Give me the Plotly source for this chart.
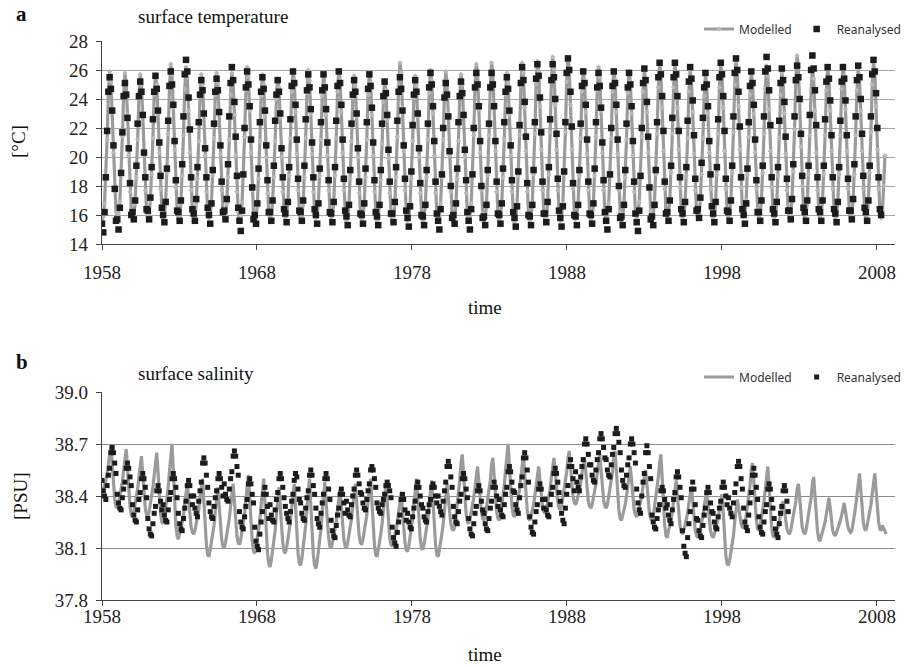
import pandas as pd
import plotly.graph_objects as go
from plotly.subplots import make_subplots

# Monthly series on the model's 360-day calendar (30-day steps from Jan 1958).
# One row per model year; short rows are the head or tail of a run.
TEMP_MODEL = [
    [15.6, 15.9, 16.8, 18.6, 21.2, 24.4, 25.9, 25.2, 23.1, 20.3, 17.8, 16.2],
    [15.8, 16.1, 16.9, 18.8, 21.4, 24.3, 25.8, 25.1, 22.9, 20.1, 17.6, 16.3],
    [15.7, 16.0, 16.8, 18.6, 21.2, 24.2, 25.7, 25.0, 22.8, 20.2, 17.7, 16.2],
    [15.9, 16.1, 17.0, 18.8, 21.3, 24.3, 25.7, 25.0, 23.0, 20.3, 17.8, 16.4],
    [15.8, 16.0, 16.9, 18.9, 21.6, 24.8, 26.4, 25.7, 23.4, 20.5, 17.9, 16.3],
    [15.7, 15.9, 16.8, 18.7, 21.5, 24.7, 26.2, 25.5, 23.2, 20.3, 17.7, 16.2],
    [15.6, 15.9, 16.7, 18.5, 21.1, 24.2, 25.7, 25.0, 22.9, 20.1, 17.6, 16.1],
    [15.8, 16.0, 16.9, 18.7, 21.3, 24.3, 25.8, 25.1, 23.0, 20.2, 17.7, 16.3],
    [15.7, 16.0, 16.8, 18.6, 21.2, 24.3, 25.8, 25.1, 22.9, 20.1, 17.6, 16.2],
    [15.6, 15.9, 16.8, 18.7, 21.4, 24.6, 26.2, 25.5, 23.2, 20.3, 17.7, 16.1],
    [15.5, 15.8, 16.7, 18.5, 21.1, 24.2, 25.7, 25.0, 22.8, 20.0, 17.5, 16.0],
    [15.8, 16.0, 16.9, 18.6, 21.1, 24.0, 25.4, 24.8, 22.7, 20.0, 17.6, 16.3],
    [15.7, 16.0, 16.8, 18.7, 21.3, 24.5, 26.0, 25.3, 23.1, 20.2, 17.7, 16.2],
    [15.6, 15.9, 16.8, 18.6, 21.3, 24.4, 26.0, 25.3, 23.0, 20.2, 17.6, 16.1],
    [15.8, 16.0, 16.9, 18.7, 21.2, 24.2, 25.7, 25.0, 22.9, 20.1, 17.7, 16.3],
    [15.7, 16.0, 16.8, 18.7, 21.3, 24.5, 26.0, 25.3, 23.1, 20.3, 17.7, 16.2],
    [15.6, 15.9, 16.7, 18.5, 21.1, 24.1, 25.6, 24.9, 22.8, 20.0, 17.5, 16.1],
    [15.7, 16.0, 16.8, 18.6, 21.2, 24.3, 25.8, 25.1, 22.9, 20.1, 17.6, 16.2],
    [15.6, 15.9, 16.7, 18.4, 20.9, 23.8, 25.3, 24.6, 22.6, 19.9, 17.5, 16.1],
    [15.5, 15.8, 16.7, 18.6, 21.4, 24.9, 26.5, 25.8, 23.4, 20.4, 17.7, 16.0],
    [15.6, 15.9, 16.7, 18.5, 21.1, 24.1, 25.6, 24.9, 22.8, 20.0, 17.5, 16.1],
    [15.5, 15.8, 16.7, 18.6, 21.2, 24.4, 26.0, 25.3, 23.0, 20.1, 17.5, 16.0],
    [15.6, 15.9, 16.8, 18.6, 21.2, 24.4, 25.9, 25.2, 23.0, 20.1, 17.6, 16.1],
    [15.5, 15.8, 16.7, 18.5, 21.1, 24.2, 25.7, 25.0, 22.8, 20.0, 17.5, 16.0],
    [15.6, 15.9, 16.8, 18.7, 21.5, 24.8, 26.4, 25.7, 23.3, 20.3, 17.7, 16.1],
    [15.5, 15.8, 16.7, 18.7, 21.5, 24.9, 26.5, 25.8, 23.4, 20.4, 17.6, 16.0],
    [15.6, 15.9, 16.8, 18.6, 21.2, 24.3, 25.8, 25.1, 22.9, 20.1, 17.6, 16.1],
    [15.5, 15.8, 16.7, 18.7, 21.5, 24.9, 26.5, 25.8, 23.4, 20.4, 17.6, 16.0],
    [15.6, 15.9, 16.8, 18.8, 21.6, 25.0, 26.6, 25.9, 23.5, 20.5, 17.7, 16.1],
    [15.5, 15.8, 16.8, 18.8, 21.7, 25.2, 26.9, 26.1, 23.6, 20.5, 17.7, 16.0],
    [15.6, 15.9, 16.8, 18.8, 21.7, 25.2, 26.9, 26.1, 23.6, 20.5, 17.8, 16.1],
    [15.7, 16.0, 16.8, 18.7, 21.3, 24.5, 26.0, 25.3, 23.1, 20.2, 17.7, 16.2],
    [15.6, 15.9, 16.8, 18.7, 21.4, 24.6, 26.2, 25.5, 23.2, 20.3, 17.7, 16.1],
    [15.7, 16.0, 16.8, 18.7, 21.3, 24.5, 26.0, 25.3, 23.1, 20.2, 17.7, 16.2],
    [15.6, 15.9, 16.8, 18.6, 21.2, 24.4, 25.9, 25.2, 23.0, 20.1, 17.6, 16.1],
    [15.8, 16.1, 16.9, 18.8, 21.4, 24.5, 26.0, 25.3, 23.1, 20.3, 17.8, 16.3],
    [15.7, 16.0, 16.9, 18.8, 21.6, 24.8, 26.4, 25.7, 23.4, 20.4, 17.8, 16.2],
    [15.8, 16.1, 17.0, 18.9, 21.6, 24.8, 26.4, 25.7, 23.4, 20.5, 17.9, 16.3],
    [15.7, 16.0, 16.8, 18.7, 21.3, 24.5, 26.0, 25.3, 23.1, 20.2, 17.7, 16.2],
    [15.9, 16.1, 17.0, 18.8, 21.3, 24.2, 25.7, 25.0, 23.0, 20.3, 17.8, 16.4],
    [15.7, 16.0, 16.9, 18.8, 21.6, 24.8, 26.4, 25.7, 23.4, 20.4, 17.8, 16.2],
    [15.8, 16.1, 17.0, 18.9, 21.7, 25.0, 26.6, 25.9, 23.5, 20.5, 17.9, 16.3],
    [15.9, 16.1, 17.0, 18.8, 21.4, 24.3, 25.8, 25.1, 23.0, 20.3, 17.8, 16.4],
    [15.8, 16.1, 17.0, 18.9, 21.6, 24.7, 26.3, 25.6, 23.3, 20.4, 17.9, 16.3],
    [15.7, 16.0, 16.8, 18.7, 21.3, 24.3, 25.8, 25.1, 23.0, 20.2, 17.7, 16.2],
    [15.8, 16.1, 17.0, 19.0, 21.9, 25.4, 27.0, 26.2, 23.8, 20.7, 18.0, 16.3],
    [15.7, 16.0, 16.9, 18.8, 21.5, 24.6, 26.1, 25.4, 23.2, 20.3, 17.7, 16.2],
    [15.8, 16.1, 17.0, 18.8, 21.5, 24.6, 26.1, 25.4, 23.2, 20.4, 17.8, 16.3],
    [15.7, 16.0, 16.9, 18.8, 21.5, 24.7, 26.3, 25.6, 23.3, 20.4, 17.8, 16.2],
    [15.8, 16.1, 17.0, 18.8, 21.5, 24.6, 26.1, 25.4, 23.2, 20.4, 17.8, 16.3],
    [15.7, 16.0, 16.9, 18.9, 21.7, 25.0, 26.6, 25.9, 23.5, 20.5, 17.8, 16.2],
    [15.8, 16.3, 18.0, 20.1],
]

TEMP_REAN = [
    [15.4, 14.8, 16.2, 18.6, 21.8, 24.5, 25.5, 24.7, 23.2, 20.8, 17.8, 15.6],
    [15.7, 15.0, 16.5, 18.9, 21.7, 24.2, 25.1, 24.3, 22.7, 20.6, 18.2, 16.0],
    [16.2, 15.7, 17.0, 19.4, 22.3, 24.2, 25.2, 24.5, 22.9, 20.3, 18.6, 16.4],
    [16.3, 15.7, 17.2, 19.3, 22.6, 24.5, 25.6, 24.7, 23.2, 21.0, 18.7, 16.5],
    [16.0, 15.5, 16.9, 19.2, 22.5, 24.9, 25.9, 25.0, 23.6, 21.1, 18.4, 16.3],
    [16.2, 15.6, 17.0, 19.5, 22.8, 25.7, 26.7, 25.9, 24.1, 21.9, 18.6, 16.4],
    [16.1, 15.6, 17.1, 19.3, 22.4, 24.3, 25.3, 24.6, 23.0, 20.6, 18.6, 16.5],
    [16.0, 15.4, 16.8, 19.1, 22.3, 24.5, 25.4, 24.6, 23.1, 20.8, 18.3, 16.2],
    [16.3, 15.7, 17.1, 19.5, 22.8, 25.1, 26.2, 25.3, 23.8, 21.4, 18.7, 16.5],
    [15.6, 14.9, 16.3, 18.8, 22.0, 24.8, 25.9, 25.0, 23.5, 21.2, 17.9, 15.7],
    [16.0, 15.4, 16.8, 19.2, 22.4, 24.5, 25.5, 24.7, 23.2, 20.8, 18.4, 16.2],
    [16.2, 15.6, 17.0, 19.4, 22.5, 24.3, 25.3, 24.5, 23.0, 20.6, 18.6, 16.4],
    [16.1, 15.5, 16.9, 19.3, 22.6, 24.9, 25.9, 25.1, 23.6, 21.2, 18.5, 16.3],
    [16.2, 15.6, 17.0, 19.4, 22.6, 24.6, 25.7, 24.8, 23.3, 21.0, 18.6, 16.4],
    [16.0, 15.4, 16.8, 19.2, 22.4, 24.6, 25.7, 24.8, 23.3, 21.0, 18.4, 16.2],
    [16.1, 15.5, 16.9, 19.3, 22.5, 24.9, 25.9, 25.1, 23.6, 21.2, 18.5, 16.3],
    [15.9, 15.3, 16.7, 19.1, 22.3, 24.3, 25.3, 24.5, 23.0, 20.6, 18.3, 16.1],
    [16.0, 15.4, 16.8, 19.2, 22.4, 24.7, 25.7, 24.9, 23.4, 21.0, 18.4, 16.2],
    [15.9, 15.3, 16.7, 19.1, 22.3, 24.2, 25.2, 24.4, 22.9, 20.5, 18.3, 16.1],
    [16.1, 15.5, 16.9, 19.3, 22.5, 24.5, 25.5, 24.7, 23.2, 20.8, 18.5, 16.3],
    [15.8, 15.2, 16.6, 19.0, 22.2, 24.3, 25.3, 24.5, 23.0, 20.6, 18.2, 16.0],
    [15.9, 15.3, 16.7, 19.1, 22.3, 24.8, 25.8, 25.0, 23.5, 21.1, 18.3, 16.1],
    [15.6, 15.0, 16.4, 18.8, 22.0, 24.1, 25.1, 24.3, 22.8, 20.4, 18.0, 15.8],
    [16.0, 15.4, 16.8, 19.2, 22.4, 24.2, 25.2, 24.4, 22.9, 20.5, 18.4, 16.2],
    [15.6, 15.0, 16.4, 18.8, 22.0, 24.8, 25.8, 25.0, 23.5, 21.1, 18.0, 15.8],
    [15.9, 15.3, 16.7, 19.1, 22.3, 24.8, 25.8, 25.0, 23.5, 21.1, 18.3, 16.1],
    [16.0, 15.4, 16.8, 19.2, 22.4, 24.5, 25.5, 24.7, 23.2, 20.8, 18.4, 16.2],
    [15.8, 15.2, 16.6, 19.0, 22.2, 25.1, 26.2, 25.3, 23.8, 21.4, 18.2, 16.0],
    [15.9, 15.3, 16.7, 19.1, 22.4, 25.4, 26.4, 25.6, 24.1, 21.7, 18.3, 16.1],
    [16.1, 15.5, 16.9, 19.3, 22.6, 25.3, 26.4, 25.5, 24.0, 21.6, 18.5, 16.3],
    [15.8, 15.2, 16.6, 19.0, 22.4, 25.8, 26.8, 26.0, 24.5, 22.1, 18.2, 16.0],
    [15.9, 15.3, 16.7, 19.1, 22.3, 24.9, 25.9, 25.1, 23.6, 21.2, 18.3, 16.1],
    [16.0, 15.4, 16.8, 19.2, 22.4, 24.8, 25.8, 24.9, 23.4, 21.0, 18.4, 16.2],
    [15.6, 15.0, 16.4, 18.8, 22.0, 24.9, 25.9, 25.1, 23.6, 21.2, 18.0, 15.8],
    [15.9, 15.3, 16.7, 19.1, 22.3, 24.8, 25.8, 25.0, 23.5, 21.1, 18.3, 16.1],
    [15.5, 14.9, 16.3, 18.7, 22.0, 25.1, 26.1, 25.3, 23.8, 21.4, 17.9, 15.7],
    [15.9, 15.3, 16.7, 19.1, 22.4, 25.5, 26.5, 25.7, 24.2, 21.8, 18.3, 16.1],
    [16.2, 15.6, 17.0, 19.4, 22.7, 25.5, 26.5, 25.7, 24.2, 21.8, 18.6, 16.4],
    [16.1, 15.5, 16.9, 19.3, 22.5, 25.2, 26.2, 25.4, 23.9, 21.5, 18.5, 16.3],
    [16.4, 15.8, 17.2, 19.6, 22.7, 24.8, 25.8, 25.0, 23.5, 21.1, 18.8, 16.6],
    [16.1, 15.5, 16.9, 19.3, 22.6, 25.5, 26.5, 25.7, 24.2, 21.8, 18.5, 16.3],
    [16.2, 15.6, 17.0, 19.4, 22.8, 25.8, 26.8, 26.0, 24.5, 22.1, 18.6, 16.4],
    [16.0, 15.4, 16.8, 19.2, 22.4, 24.9, 25.9, 25.1, 23.6, 21.2, 18.4, 16.2],
    [16.2, 15.6, 17.0, 19.4, 22.8, 25.9, 26.9, 26.1, 24.6, 22.2, 18.6, 16.4],
    [16.1, 15.5, 16.9, 19.3, 22.5, 25.1, 26.1, 25.3, 23.8, 21.4, 18.5, 16.3],
    [16.3, 15.7, 17.1, 19.5, 22.8, 25.3, 26.3, 25.5, 24.0, 21.6, 18.7, 16.5],
    [16.2, 15.6, 17.0, 19.4, 22.9, 26.0, 27.0, 26.1, 24.6, 22.2, 18.6, 16.4],
    [16.2, 15.6, 17.0, 19.4, 22.6, 25.2, 26.2, 25.4, 23.9, 21.5, 18.6, 16.4],
    [16.1, 15.5, 16.9, 19.3, 22.5, 25.2, 26.2, 25.4, 23.9, 21.5, 18.5, 16.3],
    [16.3, 15.7, 17.1, 19.5, 22.8, 25.3, 26.3, 25.5, 24.0, 21.6, 18.7, 16.5],
    [16.2, 15.6, 17.0, 19.4, 22.8, 25.7, 26.7, 25.9, 24.4, 22.0, 18.6, 16.4],
    [16.0],
]

SAL_MODEL = [
    [38.42, 38.44],
    [38.46, 38.49, 38.53, 38.59, 38.66, 38.69, 38.59, 38.47, 38.38, 38.34, 38.33, 38.36],
    [38.40, 38.43, 38.48, 38.55, 38.63, 38.67, 38.56, 38.44, 38.34, 38.29, 38.28, 38.31],
    [38.35, 38.39, 38.44, 38.51, 38.59, 38.63, 38.53, 38.42, 38.33, 38.29, 38.28, 38.31],
    [38.35, 38.39, 38.45, 38.52, 38.61, 38.65, 38.54, 38.40, 38.30, 38.25, 38.24, 38.27],
    [38.33, 38.38, 38.45, 38.54, 38.64, 38.70, 38.55, 38.37, 38.23, 38.17, 38.15, 38.19],
    [38.21, 38.25, 38.29, 38.36, 38.43, 38.47, 38.39, 38.30, 38.22, 38.19, 38.18, 38.20],
    [38.24, 38.28, 38.32, 38.39, 38.46, 38.50, 38.37, 38.23, 38.12, 38.06, 38.05, 38.09],
    [38.13, 38.17, 38.23, 38.31, 38.40, 38.45, 38.35, 38.24, 38.15, 38.11, 38.10, 38.13],
    [38.17, 38.21, 38.27, 38.34, 38.43, 38.47, 38.37, 38.26, 38.17, 38.13, 38.12, 38.15],
    [38.20, 38.24, 38.30, 38.38, 38.47, 38.52, 38.39, 38.25, 38.14, 38.08, 38.07, 38.11],
    [38.16, 38.20, 38.26, 38.35, 38.45, 38.50, 38.36, 38.19, 38.07, 38.01, 37.99, 38.03],
    [38.08, 38.13, 38.20, 38.29, 38.39, 38.45, 38.34, 38.22, 38.13, 38.08, 38.07, 38.10],
    [38.15, 38.19, 38.25, 38.33, 38.42, 38.47, 38.34, 38.19, 38.07, 38.01, 38.00, 38.04],
    [38.10, 38.15, 38.23, 38.33, 38.44, 38.50, 38.35, 38.19, 38.06, 38.00, 37.98, 38.02],
    [38.08, 38.13, 38.21, 38.31, 38.42, 38.48, 38.37, 38.25, 38.16, 38.11, 38.10, 38.13],
    [38.17, 38.20, 38.25, 38.32, 38.40, 38.44, 38.34, 38.24, 38.15, 38.11, 38.10, 38.13],
    [38.17, 38.21, 38.27, 38.34, 38.43, 38.47, 38.37, 38.26, 38.17, 38.13, 38.12, 38.15],
    [38.20, 38.23, 38.29, 38.37, 38.45, 38.50, 38.37, 38.23, 38.12, 38.06, 38.05, 38.09],
    [38.13, 38.18, 38.24, 38.32, 38.42, 38.47, 38.37, 38.25, 38.16, 38.12, 38.11, 38.14],
    [38.17, 38.20, 38.25, 38.31, 38.38, 38.42, 38.32, 38.22, 38.13, 38.09, 38.08, 38.11],
    [38.16, 38.21, 38.27, 38.35, 38.45, 38.50, 38.39, 38.25, 38.15, 38.10, 38.09, 38.12],
    [38.17, 38.21, 38.27, 38.35, 38.44, 38.49, 38.37, 38.23, 38.12, 38.06, 38.05, 38.09],
    [38.13, 38.18, 38.24, 38.32, 38.42, 38.47, 38.39, 38.31, 38.24, 38.21, 38.20, 38.22],
    [38.29, 38.33, 38.40, 38.49, 38.59, 38.64, 38.53, 38.40, 38.30, 38.25, 38.24, 38.27],
    [38.31, 38.34, 38.39, 38.45, 38.53, 38.57, 38.48, 38.38, 38.31, 38.27, 38.26, 38.28],
    [38.33, 38.37, 38.42, 38.49, 38.58, 38.62, 38.52, 38.40, 38.31, 38.27, 38.26, 38.29],
    [38.35, 38.39, 38.46, 38.55, 38.65, 38.70, 38.58, 38.45, 38.34, 38.29, 38.28, 38.31],
    [38.35, 38.39, 38.44, 38.51, 38.59, 38.63, 38.53, 38.41, 38.32, 38.27, 38.26, 38.29],
    [38.32, 38.35, 38.40, 38.46, 38.53, 38.57, 38.49, 38.41, 38.34, 38.31, 38.30, 38.32],
    [38.36, 38.40, 38.44, 38.51, 38.58, 38.62, 38.54, 38.44, 38.37, 38.33, 38.32, 38.34],
    [38.39, 38.42, 38.47, 38.54, 38.62, 38.66, 38.57, 38.47, 38.40, 38.36, 38.35, 38.37],
    [38.40, 38.43, 38.47, 38.53, 38.59, 38.62, 38.54, 38.45, 38.37, 38.34, 38.33, 38.35],
    [38.39, 38.42, 38.47, 38.53, 38.60, 38.64, 38.55, 38.45, 38.38, 38.34, 38.33, 38.35],
    [38.40, 38.43, 38.48, 38.54, 38.62, 38.66, 38.55, 38.42, 38.32, 38.27, 38.26, 38.29],
    [38.32, 38.35, 38.40, 38.46, 38.53, 38.57, 38.49, 38.40, 38.32, 38.29, 38.28, 38.30],
    [38.33, 38.36, 38.40, 38.46, 38.52, 38.55, 38.47, 38.38, 38.30, 38.27, 38.26, 38.28],
    [38.34, 38.37, 38.43, 38.51, 38.59, 38.64, 38.51, 38.35, 38.23, 38.17, 38.16, 38.20],
    [38.23, 38.26, 38.31, 38.37, 38.45, 38.49, 38.40, 38.30, 38.23, 38.19, 38.18, 38.20],
    [38.23, 38.26, 38.30, 38.36, 38.42, 38.45, 38.37, 38.28, 38.20, 38.17, 38.16, 38.18],
    [38.21, 38.24, 38.28, 38.34, 38.40, 38.43, 38.35, 38.27, 38.20, 38.17, 38.16, 38.18],
    [38.21, 38.24, 38.27, 38.32, 38.38, 38.41, 38.30, 38.16, 38.06, 38.01, 38.00, 38.03],
    [38.08, 38.11, 38.17, 38.25, 38.33, 38.38, 38.34, 38.28, 38.24, 38.22, 38.22, 38.23],
    [38.29, 38.33, 38.39, 38.46, 38.55, 38.59, 38.48, 38.36, 38.26, 38.21, 38.20, 38.23],
    [38.27, 38.31, 38.37, 38.44, 38.53, 38.57, 38.46, 38.32, 38.22, 38.17, 38.16, 38.19],
    [38.20, 38.22, 38.25, 38.30, 38.34, 38.37, 38.32, 38.26, 38.21, 38.19, 38.18, 38.20],
    [38.24, 38.27, 38.31, 38.37, 38.44, 38.47, 38.39, 38.30, 38.22, 38.19, 38.18, 38.20],
    [38.25, 38.28, 38.33, 38.39, 38.47, 38.51, 38.41, 38.29, 38.20, 38.15, 38.14, 38.17],
    [38.19, 38.22, 38.25, 38.30, 38.36, 38.39, 38.33, 38.26, 38.20, 38.18, 38.17, 38.19],
    [38.21, 38.23, 38.26, 38.29, 38.34, 38.36, 38.31, 38.26, 38.22, 38.20, 38.19, 38.20],
    [38.26, 38.29, 38.34, 38.41, 38.49, 38.53, 38.44, 38.33, 38.25, 38.21, 38.20, 38.23],
    [38.27, 38.30, 38.35, 38.41, 38.49, 38.53, 38.44, 38.33, 38.25, 38.21, 38.20, 38.23],
    [38.21, 38.19, 38.18],
]

SAL_REAN = [
    [38.49, 38.43, 38.40, 38.38, 38.46, 38.52, 38.56, 38.65, 38.68, 38.65, 38.59, 38.53],
    [38.41, 38.36, 38.33, 38.32, 38.39, 38.44, 38.48, 38.56, 38.59, 38.56, 38.51, 38.46],
    [38.35, 38.29, 38.26, 38.25, 38.32, 38.38, 38.42, 38.50, 38.53, 38.50, 38.45, 38.39],
    [38.27, 38.21, 38.18, 38.17, 38.24, 38.30, 38.34, 38.43, 38.46, 38.43, 38.37, 38.32],
    [38.35, 38.29, 38.26, 38.25, 38.32, 38.38, 38.42, 38.50, 38.53, 38.50, 38.45, 38.39],
    [38.30, 38.24, 38.21, 38.20, 38.27, 38.33, 38.37, 38.46, 38.49, 38.46, 38.40, 38.35],
    [38.40, 38.33, 38.30, 38.28, 38.37, 38.43, 38.48, 38.59, 38.62, 38.59, 38.52, 38.45],
    [38.36, 38.31, 38.28, 38.27, 38.34, 38.39, 38.43, 38.50, 38.53, 38.50, 38.45, 38.40],
    [38.47, 38.41, 38.38, 38.37, 38.44, 38.50, 38.54, 38.63, 38.66, 38.63, 38.57, 38.52],
    [38.31, 38.25, 38.22, 38.21, 38.28, 38.34, 38.38, 38.47, 38.50, 38.47, 38.41, 38.36],
    [38.22, 38.14, 38.11, 38.09, 38.18, 38.25, 38.31, 38.41, 38.45, 38.41, 38.34, 38.27],
    [38.35, 38.29, 38.26, 38.25, 38.32, 38.38, 38.42, 38.50, 38.53, 38.50, 38.45, 38.39],
    [38.34, 38.30, 38.27, 38.25, 38.31, 38.37, 38.41, 38.49, 38.53, 38.51, 38.44, 38.38],
    [38.36, 38.30, 38.27, 38.26, 38.33, 38.39, 38.43, 38.52, 38.55, 38.52, 38.46, 38.41],
    [38.33, 38.27, 38.24, 38.22, 38.30, 38.36, 38.41, 38.50, 38.53, 38.50, 38.44, 38.38],
    [38.26, 38.20, 38.17, 38.16, 38.23, 38.29, 38.33, 38.41, 38.44, 38.41, 38.36, 38.30],
    [38.37, 38.32, 38.29, 38.28, 38.35, 38.40, 38.44, 38.52, 38.55, 38.52, 38.47, 38.42],
    [38.41, 38.36, 38.33, 38.32, 38.38, 38.43, 38.47, 38.55, 38.57, 38.55, 38.50, 38.45],
    [38.36, 38.33, 38.31, 38.30, 38.35, 38.38, 38.41, 38.46, 38.48, 38.46, 38.43, 38.39],
    [38.22, 38.16, 38.13, 38.11, 38.19, 38.25, 38.29, 38.38, 38.41, 38.38, 38.32, 38.26],
    [38.30, 38.25, 38.22, 38.21, 38.28, 38.33, 38.37, 38.45, 38.48, 38.45, 38.40, 38.35],
    [38.33, 38.28, 38.26, 38.25, 38.31, 38.35, 38.38, 38.45, 38.47, 38.45, 38.40, 38.36],
    [38.40, 38.34, 38.31, 38.29, 38.37, 38.43, 38.48, 38.57, 38.60, 38.57, 38.51, 38.45],
    [38.34, 38.28, 38.25, 38.24, 38.31, 38.37, 38.41, 38.50, 38.53, 38.50, 38.44, 38.39],
    [38.27, 38.21, 38.18, 38.17, 38.24, 38.30, 38.34, 38.43, 38.46, 38.43, 38.37, 38.32],
    [38.30, 38.24, 38.21, 38.20, 38.27, 38.33, 38.37, 38.45, 38.48, 38.45, 38.40, 38.34],
    [38.38, 38.32, 38.29, 38.28, 38.35, 38.41, 38.45, 38.54, 38.57, 38.54, 38.48, 38.43],
    [38.42, 38.35, 38.32, 38.30, 38.39, 38.46, 38.51, 38.62, 38.65, 38.62, 38.55, 38.48],
    [38.28, 38.22, 38.19, 38.18, 38.25, 38.31, 38.35, 38.44, 38.47, 38.44, 38.38, 38.33],
    [38.38, 38.32, 38.29, 38.28, 38.35, 38.41, 38.45, 38.53, 38.56, 38.53, 38.48, 38.42],
    [38.37, 38.30, 38.26, 38.24, 38.33, 38.41, 38.46, 38.57, 38.61, 38.57, 38.50, 38.43],
    [38.54, 38.48, 38.45, 38.43, 38.51, 38.57, 38.61, 38.70, 38.73, 38.70, 38.64, 38.58],
    [38.58, 38.52, 38.49, 38.48, 38.55, 38.61, 38.65, 38.73, 38.76, 38.73, 38.68, 38.62],
    [38.61, 38.55, 38.52, 38.51, 38.58, 38.64, 38.68, 38.76, 38.79, 38.76, 38.71, 38.65],
    [38.55, 38.49, 38.46, 38.45, 38.52, 38.58, 38.62, 38.70, 38.73, 38.70, 38.65, 38.59],
    [38.44, 38.36, 38.32, 38.30, 38.40, 38.48, 38.53, 38.65, 38.69, 38.65, 38.57, 38.50],
    [38.29, 38.25, 38.22, 38.21, 38.27, 38.32, 38.35, 38.43, 38.45, 38.43, 38.38, 38.33],
    [38.35, 38.29, 38.26, 38.24, 38.32, 38.38, 38.42, 38.51, 38.54, 38.51, 38.45, 38.39],
    [38.20, 38.11, 38.07, 38.05, 38.16, 38.24, 38.31, 38.44, 38.48, 38.44, 38.35, 38.27],
    [38.26, 38.20, 38.17, 38.16, 38.23, 38.29, 38.33, 38.42, 38.45, 38.42, 38.36, 38.31],
    [38.30, 38.25, 38.22, 38.21, 38.28, 38.33, 38.37, 38.45, 38.48, 38.45, 38.40, 38.35],
    [38.39, 38.33, 38.30, 38.28, 38.36, 38.42, 38.47, 38.57, 38.60, 38.57, 38.50, 38.44],
    [38.33, 38.25, 38.22, 38.20, 38.29, 38.36, 38.42, 38.52, 38.56, 38.52, 38.45, 38.38],
    [38.28, 38.22, 38.19, 38.18, 38.25, 38.31, 38.35, 38.44, 38.47, 38.44, 38.38, 38.33],
    [38.27, 38.21, 38.18, 38.16, 38.24, 38.30, 38.34, 38.43, 38.46, 38.43, 38.37, 38.31],
]

TICK_YEARS = [1958, 1968, 1978, 1988, 1998, 2008]
START = "1958-01-01"
STEP = "30D"          # model calendar: twelve 30-day months per year
AXIS_END = "2009-03-01"


def flatten(rows):
    return [v for row in rows for v in row]


def dates(n):
    return pd.date_range(START, periods=n, freq=STEP)


temp_model = flatten(TEMP_MODEL)
temp_rean = flatten(TEMP_REAN)
sal_model = flatten(SAL_MODEL)
sal_rean = flatten(SAL_REAN)

W, H = 908, 668
ML, MR = 102, 13
PLOT_W = W - ML - MR


def px(x):
    return (x - ML) / PLOT_W


def py(y):
    return 1 - y / H


fig = make_subplots(rows=2, cols=1)

LINE_GREY = "#9b9b9b"
DOT = "#1c1c1c"
SERIF = "Liberation Serif, Times New Roman, serif"
SANS = "Noto Sans, Liberation Sans, sans-serif"

fig.add_trace(go.Scatter(
    x=dates(len(temp_model)), y=temp_model, name="Modelled", mode="lines+markers",
    line=dict(color=LINE_GREY, width=3.2),
    marker=dict(symbol="diamond", size=4, color="#b8b8b8"),
    legend="legend"), row=1, col=1)
fig.add_trace(go.Scatter(
    x=dates(len(temp_rean)), y=temp_rean, name="Reanalysed", mode="markers",
    marker=dict(symbol="square", size=6.5, color=DOT),
    legend="legend"), row=1, col=1)
fig.add_trace(go.Scatter(
    x=dates(len(sal_model)), y=sal_model, name="Modelled", mode="lines",
    line=dict(color=LINE_GREY, width=3.2),
    legend="legend2"), row=2, col=1)
fig.add_trace(go.Scatter(
    x=dates(len(sal_rean)), y=sal_rean, name="Reanalysed", mode="markers",
    marker=dict(symbol="square", size=5, color=DOT),
    legend="legend2"), row=2, col=1)

tickvals = [f"{y}-01-01" for y in TICK_YEARS]
ticktext = [str(y) for y in TICK_YEARS]
xaxis_style = dict(
    type="date", range=[START, AXIS_END], tickvals=tickvals, ticktext=ticktext,
    showgrid=False, showline=True, linecolor="#444", linewidth=1.2,
    ticks="outside", ticklen=5, tickcolor="#444", zeroline=False,
    automargin=False, domain=[0, 1],
    tickfont=dict(family=SERIF, size=19, color="#222"),
)
fig.update_xaxes(**xaxis_style)
fig.update_xaxes(ticklabelstandoff=6, row=1, col=1)
fig.update_xaxes(ticklabelstandoff=-6, row=2, col=1)

yaxis_style = dict(
    showgrid=True, gridwidth=1.2,
    showline=True, linecolor="#444", linewidth=1.2,
    ticks="outside", ticklen=5, tickcolor="#444", zeroline=False,
    automargin=False, ticklabelstandoff=4,
    tickfont=dict(family=SERIF, size=19, color="#222"),
)
fig.update_yaxes(range=[14, 28], dtick=2, tick0=14, gridcolor="#a6a6a6",
                 domain=[py(244), py(41)], row=1, col=1, **yaxis_style)
fig.update_yaxes(range=[37.8, 39.0], dtick=0.3, tick0=37.8, tickformat=".1f",
                 gridcolor="#8c8c8c",
                 domain=[py(600), py(392)], row=2, col=1, **yaxis_style)

legend_style = dict(
    orientation="h", xanchor="right", yanchor="middle",
    bgcolor="rgba(0,0,0,0)", font=dict(family=SANS, size=12, color="#333"),
    itemwidth=30, tracegroupgap=0,
)
fig.update_layout(
    legend=dict(x=px(906), y=py(29), **legend_style),
    legend2=dict(x=px(906), y=py(377), **legend_style),
)

texts = [
    ("a", 14, 14, "left", 21, True, 0),
    ("surface temperature", 136, 17, "left", 19, False, 0),
    ("[°C]", 19, 142, "center", 19, False, -90),
    ("time", 485, 307, "center", 19, False, 0),
    ("b", 14, 362, "left", 21, True, 0),
    ("surface salinity", 136, 373, "left", 19, False, 0),
    ("[PSU]", 20, 496, "center", 19, False, -90),
    ("time", 485, 654, "center", 19, False, 0),
]
for txt, x, y, anchor, size, bold, angle in texts:
    fig.add_annotation(
        text=f"<b>{txt}</b>" if bold else txt, x=px(x), y=py(y),
        xref="paper", yref="paper", xanchor=anchor, yanchor="middle",
        showarrow=False, textangle=angle,
        font=dict(family=SERIF, size=size, color="#111"))

fig.update_layout(
    width=W, height=H, margin=dict(l=ML, r=MR, t=0, b=0),
    paper_bgcolor="white", plot_bgcolor="white", showlegend=True,
)

fig.write_html("out.html")
